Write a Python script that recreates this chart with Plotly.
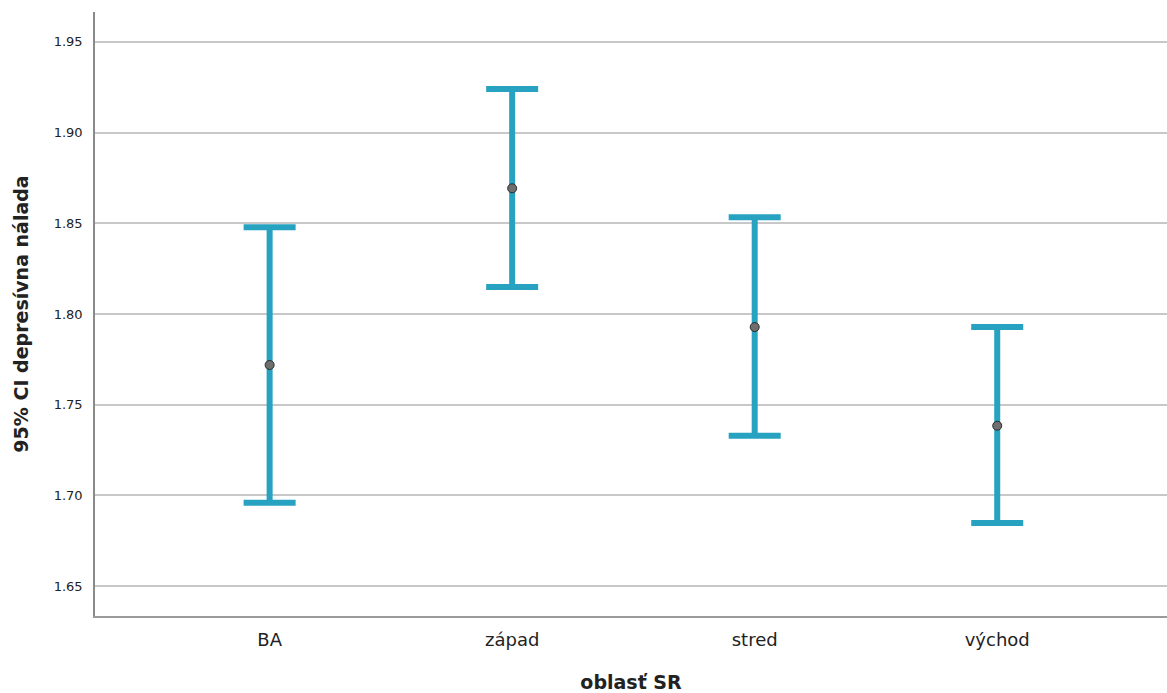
import plotly.graph_objects as go

categories = ["BA", "západ", "stred", "východ"]
means = [1.7719, 1.8693, 1.7928, 1.7384]
upper = [1.8478, 1.9240, 1.8533, 1.7928]
lower = [1.6959, 1.8149, 1.7329, 1.6848]

err_plus = [u - m for u, m in zip(upper, means)]
err_minus = [m - l for m, l in zip(means, lower)]

fig = go.Figure()
fig.add_trace(go.Scatter(
    x=categories, y=means, mode="markers",
    marker=dict(size=9, color="#6e6e6e", line=dict(color="#2b2b2b", width=1)),
    error_y=dict(type="data", symmetric=False, array=err_plus, arrayminus=err_minus,
                 color="#27a2c1", thickness=6, width=26),
    showlegend=False,
))

fig.update_layout(
    width=1167, height=693,
    margin=dict(l=95, r=0, t=12, b=77),
    paper_bgcolor="white", plot_bgcolor="white",
    font=dict(family="DejaVu Sans, sans-serif", color="#222"),
    xaxis=dict(
        range=[-0.72, 3.7], showgrid=False, showline=True, linecolor="#9a9a9a", linewidth=2,
        ticks="", tickfont=dict(size=18, color="#222"), ticklabelstandoff=6,
        title=dict(text="<b>oblasť SR</b>", font=dict(size=19, color="#222"), standoff=28),
    ),
    yaxis=dict(
        range=[1.6335, 1.9665], tickvals=[1.65, 1.70, 1.75, 1.80, 1.85, 1.90, 1.95],
        tickformat=".2f", showgrid=True, gridcolor="#c8c8c8", gridwidth=1.5,
        showline=True, linecolor="#8a8a8a", linewidth=1.5, zeroline=False,
        ticks="", tickfont=dict(size=13, color="#222"), ticklabelstandoff=8,
        title=dict(text="<b>95% CI depresívna nálada</b>", font=dict(size=19, color="#222"), standoff=20),
    ),
)

fig.write_html(
    "out.html",
    config={"displayModeBar": False},
    post_script="document.body.style.margin='0';document.body.style.overflow='hidden';",
)
